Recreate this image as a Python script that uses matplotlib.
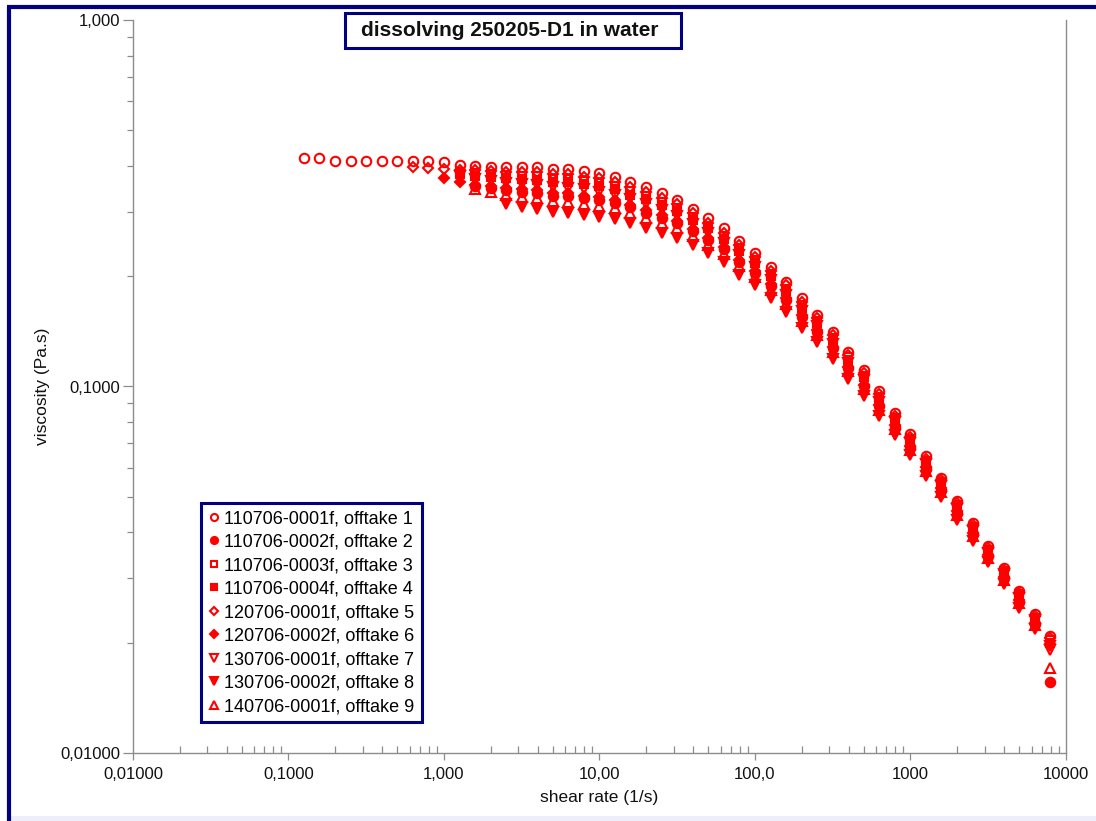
import matplotlib
matplotlib.use("Agg")
import matplotlib.pyplot as plt
from matplotlib.patches import Rectangle
from matplotlib.lines import Line2D
from matplotlib.ticker import LogLocator, NullFormatter, FixedLocator, FixedFormatter

plt.rcParams['font.family'] = ['Liberation Sans', 'DejaVu Sans']

# Shear rate steps of the flow curve (1/s), ten per decade
shear_rate = [0.126, 0.158, 0.200, 0.251, 0.316, 0.398, 0.501, 0.631, 0.794, 1.00,
              1.26, 1.58, 2.00, 2.51, 3.16, 3.98, 5.01, 6.31, 7.94, 10.0,
              12.6, 15.8, 20.0, 25.1, 31.6, 39.8, 50.1, 63.1, 79.4, 100,
              126, 158, 200, 251, 316, 398, 501, 631, 794, 1000,
              1260, 1580, 2000, 2510, 3160, 3980, 5010, 6310, 7940]

# Viscosity (Pa.s); each run ends at the last shear rate step
offtake_1 = [0.420, 0.420, 0.412, 0.412, 0.412, 0.412, 0.412, 0.412, 0.412, 0.410,
             0.402, 0.400, 0.397, 0.397, 0.397, 0.397, 0.392, 0.392, 0.387, 0.382,
             0.373, 0.361, 0.350, 0.337, 0.323, 0.305, 0.288, 0.270, 0.249, 0.231,
             0.212, 0.193, 0.174, 0.157, 0.141, 0.124, 0.111, 0.0972, 0.0847, 0.0742,
             0.0646, 0.0563, 0.0487, 0.0424, 0.0367, 0.0320, 0.0277, 0.0239, 0.0209]
offtake_2 = [0.352, 0.348,
             0.344, 0.340, 0.337, 0.332, 0.330, 0.326, 0.322, 0.317, 0.308, 0.298,
             0.288, 0.279, 0.265, 0.251, 0.237, 0.219, 0.204, 0.188, 0.172, 0.155,
             0.141, 0.127, 0.112, 0.100, 0.0882, 0.0777, 0.0684, 0.0598, 0.0523, 0.0452,
             0.0395, 0.0345, 0.0301, 0.0259, 0.0225, 0.0156]
offtake_3 = [0.386, 0.382, 0.380,
             0.377, 0.376, 0.375, 0.369, 0.369, 0.364, 0.359, 0.352, 0.341, 0.331,
             0.319, 0.306, 0.290, 0.274, 0.258, 0.238, 0.221, 0.203, 0.185, 0.167,
             0.151, 0.136, 0.120, 0.107, 0.0939, 0.0822, 0.0721, 0.0628, 0.0548, 0.0474,
             0.0414, 0.0359, 0.0313, 0.0271, 0.0234, 0.0204]
offtake_4 = [0.380, 0.376, 0.372,
             0.370, 0.368, 0.367, 0.361, 0.361, 0.356, 0.352, 0.345, 0.334, 0.324,
             0.313, 0.301, 0.285, 0.270, 0.253, 0.234, 0.217, 0.200, 0.182, 0.164,
             0.149, 0.134, 0.118, 0.106, 0.0927, 0.0813, 0.0713, 0.0622, 0.0543, 0.0470,
             0.0410, 0.0356, 0.0310, 0.0268, 0.0232, 0.0200]
offtake_5 = [0.397, 0.395, 0.392, 0.390, 0.389, 0.387,
             0.386, 0.385, 0.385, 0.380, 0.379, 0.374, 0.370, 0.361, 0.350, 0.339,
             0.327, 0.314, 0.297, 0.280, 0.263, 0.243, 0.226, 0.207, 0.189, 0.170,
             0.154, 0.138, 0.122, 0.109, 0.0954, 0.0833, 0.0730, 0.0636, 0.0555, 0.0480,
             0.0418, 0.0363, 0.0316, 0.0273, 0.0236, 0.0206]
offtake_6 = [0.371, 0.361, 0.355, 0.352,
             0.349, 0.346, 0.343, 0.338, 0.337, 0.332, 0.328, 0.323, 0.313, 0.304,
             0.293, 0.283, 0.269, 0.255, 0.240, 0.222, 0.207, 0.190, 0.174, 0.157,
             0.143, 0.128, 0.113, 0.101, 0.0892, 0.0785, 0.0690, 0.0603, 0.0527, 0.0456,
             0.0398, 0.0347, 0.0303, 0.0261, 0.0227, 0.0198]
offtake_7 = [0.375, 0.368, 0.363,
             0.360, 0.357, 0.355, 0.350, 0.349, 0.345, 0.340, 0.334, 0.324, 0.314,
             0.303, 0.292, 0.277, 0.263, 0.247, 0.228, 0.212, 0.195, 0.178, 0.161,
             0.146, 0.131, 0.116, 0.104, 0.0910, 0.0799, 0.0702, 0.0613, 0.0535, 0.0463,
             0.0404, 0.0352, 0.0307, 0.0265, 0.0230, 0.0191]
offtake_8 = [0.315, 0.309, 0.305, 0.299, 0.297, 0.294, 0.290, 0.287, 0.279, 0.271,
             0.262, 0.254, 0.243, 0.231, 0.218, 0.202, 0.189, 0.174, 0.160, 0.144,
             0.132, 0.119, 0.105, 0.0943, 0.0831, 0.0738, 0.0650, 0.0570, 0.0500, 0.0432,
             0.0379, 0.0332, 0.0289, 0.0249, 0.0218, 0.0196]
offtake_9 = [0.346, 0.340,
             0.333, 0.329, 0.326, 0.320, 0.319, 0.315, 0.310, 0.306, 0.298, 0.289,
             0.279, 0.270, 0.257, 0.244, 0.230, 0.213, 0.199, 0.183, 0.168, 0.151,
             0.138, 0.124, 0.110, 0.0982, 0.0864, 0.0764, 0.0672, 0.0588, 0.0515, 0.0445,
             0.0390, 0.0340, 0.0297, 0.0256, 0.0223, 0.0171]

run_labels = ["110706-0001f, offtake 1", "110706-0002f, offtake 2",
              "110706-0003f, offtake 3", "110706-0004f, offtake 4",
              "120706-0001f, offtake 5", "120706-0002f, offtake 6",
              "130706-0001f, offtake 7", "130706-0002f, offtake 8",
              "140706-0001f, offtake 9"]

x_ticks = [0.01, 0.1, 1, 10, 100, 1000, 10000]
x_tick_labels = ["0,01000", "0,1000", "1,000", "10,00", "100,0", "1000", "10000"]
y_ticks = [0.01, 0.1, 1.0]
y_tick_labels = ["0,01000", "0,1000", "1,000"]

title_text = "dissolving 250205-D1 in water"
x_label = "shear rate (1/s)"
y_label = "viscosity (Pa.s)"

RED = "#ff0000"
NAVY = "#000080"
GREY = "#8c8c8c"

W, H = 1096, 821
fig = plt.figure(figsize=(W / 100, H / 100), dpi=100)
fig.patch.set_facecolor("white")

ax = fig.add_axes([133 / W, 1 - 753 / H, (1066 - 133) / W, (753 - 20) / H])

runs = [offtake_1, offtake_2, offtake_3, offtake_4, offtake_5,
        offtake_6, offtake_7, offtake_8, offtake_9]
styles = [("o", False, 6.8), ("o", True, 6.8), ("s", False, 6.0), ("s", True, 6.0),
          ("D", False, 5.6), ("D", True, 5.6), ("v", False, 7.0), ("v", True, 7.0),
          ("^", False, 7.0)]

for vals, (mk, filled, ms), lab in zip(runs, styles, run_labels):
    xs = shear_rate[len(shear_rate) - len(vals):]
    ax.plot(xs, vals, linestyle="none", marker=mk, markersize=ms,
            markerfacecolor=RED if filled else "none", markeredgecolor=RED,
            markeredgewidth=1.5, label=lab)

ax.set_xscale("log")
ax.set_yscale("log")
ax.set_xlim(0.01, 10000)
ax.set_ylim(0.01, 1.0)

ax.xaxis.set_major_locator(FixedLocator(x_ticks))
ax.xaxis.set_major_formatter(FixedFormatter(x_tick_labels))
ax.yaxis.set_major_locator(FixedLocator(y_ticks))
ax.yaxis.set_major_formatter(FixedFormatter(y_tick_labels))
ax.xaxis.set_minor_locator(LogLocator(base=10, subs=range(2, 10), numticks=20))
ax.yaxis.set_minor_locator(LogLocator(base=10, subs=range(2, 10), numticks=20))
ax.xaxis.set_minor_formatter(NullFormatter())
ax.yaxis.set_minor_formatter(NullFormatter())

for side in ("left", "bottom", "right"):
    ax.spines[side].set_color(GREY)
    ax.spines[side].set_linewidth(1.0)
ax.spines["top"].set_visible(False)

ax.tick_params(axis="y", which="major", direction="out", length=7, width=0.9,
               color=GREY, labelsize=12, pad=2, labelcolor="#111111")
ax.tick_params(axis="y", which="minor", direction="out", length=4, width=0.9, color=GREY)
ax.tick_params(axis="x", which="major", direction="out", length=5, width=0.9,
               color=GREY, labelsize=12, pad=5, labelcolor="#111111")
ax.tick_params(axis="x", which="minor", direction="in", length=5, width=0.9, color=GREY)
ax.tick_params(axis="y", which="both", right=False)
ax.tick_params(axis="x", which="both", top=False)

ax.set_xlabel(x_label, fontsize=12.5, color="#111111")
ax.set_ylabel(y_label, fontsize=12.5, color="#111111")
ax.xaxis.set_label_coords(0.5, (753 - 797) / (753 - 20))
ax.xaxis.label.set_va("center")
ax.yaxis.set_label_coords((42 - 133) / (1066 - 133), 0.5)
ax.yaxis.label.set_va("center")

leg = ax.legend(loc="upper left", bbox_to_anchor=(201 / W, 1 - 503 / H),
                bbox_transform=fig.transFigure, frameon=True, fancybox=False,
                edgecolor=NAVY, framealpha=1, fontsize=13, borderpad=0.4,
                handlelength=0.6, handletextpad=0.3, labelspacing=0.36,
                borderaxespad=0, markerscale=0.75)
leg.get_frame().set_linewidth(2.2)

# title box
fig.add_artist(Rectangle((345 / W, 1 - 48 / H), 336 / W, 35 / H,
                         transform=fig.transFigure, facecolor="white",
                         edgecolor=NAVY, linewidth=2.2, zorder=5))
fig.text(510 / W, 1 - 31 / H, title_text, ha="center", va="center",
         fontsize=15, fontweight="bold", color="#111111", zorder=6)

# page frame
fig.add_artist(Line2D([8.5 / W, 8.5 / W], [0, 1 - 7.5 / H], transform=fig.transFigure,
                      color=NAVY, linewidth=3, solid_capstyle="butt"))
fig.add_artist(Line2D([7 / W, 1], [1 - 7.5 / H, 1 - 7.5 / H], transform=fig.transFigure,
                      color=NAVY, linewidth=3, solid_capstyle="butt"))
fig.add_artist(Rectangle((10.5 / W, 0), 1, 5 / H, transform=fig.transFigure,
                         facecolor="#eeeefb", edgecolor="none"))

fig.savefig("out.png", dpi=100)
